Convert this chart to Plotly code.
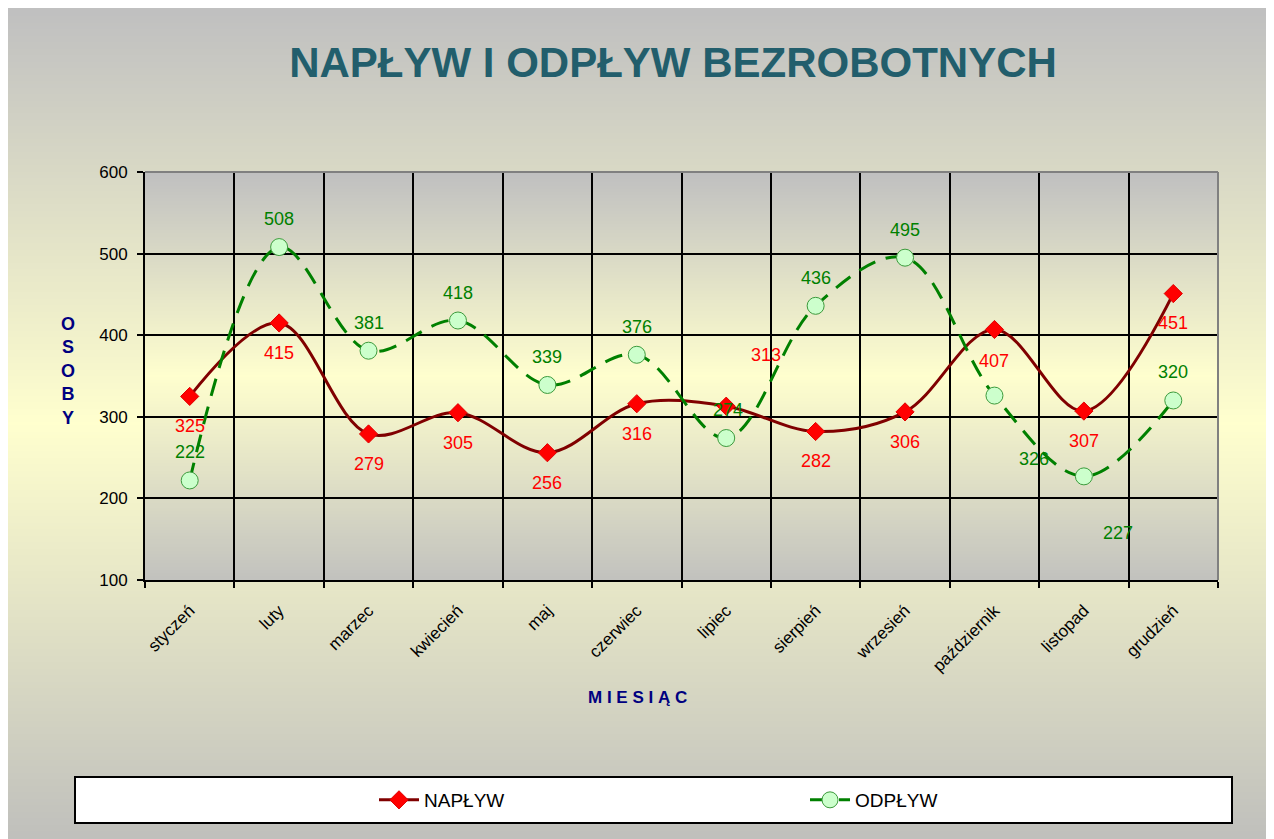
import zlib, struct, base64
import plotly.graph_objects as go

# ---------------- data ----------------
months = ["styczeń", "luty", "marzec", "kwiecień", "maj", "czerwiec",
          "lipiec", "sierpień", "wrzesień", "październik", "listopad", "grudzień"]
naplyw = [325, 415, 279, 305, 256, 316, 313, 282, 306, 407, 307, 451]
odplyw = [222, 508, 381, 418, 339, 376, 274, 436, 495, 326, 227, 320]

# label offsets (pixels) -- styling only
nap_dx = [0, 0, 0, 0, 0, 0, 40, 0, 0, 0, 0, 0]
nap_dy = [-30, -30, -30, -30, -30, -30, 51, -30, -30, -32, -30, -29]
odp_dx = [0, 0, 0, 0, 0, 0, 2, 0, 0, 40, 34, 0]
odp_dy = [28, 28, 28, 28, 28, 28, 28, 28, 28, -63, -57, 28]

# figure geometry (page body adds an 8px offset)
W, H = 1262, 831
L, R, T, B = 137, 52, 164, 259
PW, PH = W - L - R, H - T - B


def px_x(px):
    return (px - L) / PW


def px_y(py):
    return (H - B - py) / PH


def png_gradient(stops, h=256):
    rows = []
    for i in range(h):
        t = i / (h - 1)
        for k in range(len(stops) - 1):
            t0, c0 = stops[k]
            t1, c1 = stops[k + 1]
            if t0 <= t <= t1:
                f = (t - t0) / (t1 - t0) if t1 > t0 else 0
                c = [int(round(c0[j] + (c1[j] - c0[j]) * f)) for j in range(3)]
                break
        rows.append(b"\x00" + bytes(c) * 2)
    raw = b"".join(rows)

    def chunk(tag, data):
        return (struct.pack(">I", len(data)) + tag + data +
                struct.pack(">I", zlib.crc32(tag + data) & 0xffffffff))
    png = (b"\x89PNG\r\n\x1a\n" +
           chunk(b"IHDR", struct.pack(">IIBBBBB", 2, h, 8, 2, 0, 0, 0)) +
           chunk(b"IDAT", zlib.compress(raw)) + chunk(b"IEND", b""))
    return "data:image/png;base64," + base64.b64encode(png).decode()


outer_png = png_gradient([(0, (192, 192, 192)), (0.5, (255, 255, 206)), (1, (192, 192, 188))])
plot_png = png_gradient([(0, (192, 192, 192)), (0.5, (255, 255, 206)), (1, (194, 194, 190))])

x = list(range(len(months)))
FONT = "Liberation Sans, Arial, sans-serif"

fig = go.Figure()
fig.add_trace(go.Scatter(
    x=x, y=naplyw, name="NAPŁYW", mode="lines+markers",
    line=dict(color="#800000", width=3, shape="spline", smoothing=1.0),
    marker=dict(symbol="diamond", size=14, color="#FF0000",
                line=dict(color="#E00000", width=1)),
))
fig.add_trace(go.Scatter(
    x=x, y=odplyw, name="ODPŁYW", mode="lines+markers",
    line=dict(color="#008000", width=3, shape="spline", smoothing=1.0, dash="18px,11px"),
    marker=dict(symbol="circle", size=17, color="#CCFFCC",
                line=dict(color="#3C9A3C", width=1)),
))

annotations = []
for i, v in enumerate(naplyw):
    annotations.append(dict(x=x[i], y=v, text=str(v), showarrow=False,
                            xshift=nap_dx[i], yshift=nap_dy[i],
                            font=dict(color="#FF0000", size=18, family=FONT)))
for i, v in enumerate(odplyw):
    annotations.append(dict(x=x[i], y=v, text=str(v), showarrow=False,
                            xshift=odp_dx[i], yshift=odp_dy[i],
                            font=dict(color="#008000", size=18, family=FONT)))

# axis titles
annotations.append(dict(xref="paper", yref="paper", x=px_x(60), y=px_y(363),
                        text="O<br>S<br>O<br>B<br>Y", showarrow=False,
                        xanchor="center", yanchor="middle", align="center",
                        font=dict(color="#000080", size=18, family=FONT, weight="bold")))
annotations.append(dict(xref="paper", yref="paper", x=px_x(629), y=px_y(689),
                        text="M I E S I Ą C", showarrow=False,
                        xanchor="center", yanchor="middle",
                        font=dict(color="#000080", size=17, family=FONT, weight="bold")))

fig.update_layout(
    width=W, height=H,
    margin=dict(l=L, r=R, t=T, b=B),
    paper_bgcolor="white",
    plot_bgcolor="rgba(0,0,0,0)",
    title=dict(text="<b>NAPŁYW I ODPŁYW BEZROBOTNYCH</b>",
               x=665 / W, xref="container", xanchor="center",
               y=1 - 54 / H, yref="container", yanchor="middle",
               font=dict(family=FONT, size=42, color="#225E6C")),
    font=dict(family=FONT, color="black"),
    xaxis=dict(
        range=[-0.5, len(months) - 0.5],
        tickmode="array", tickvals=x, ticktext=months, tickangle=-45,
        ticks="", showgrid=False, zeroline=False,
        showline=True, linecolor="black", linewidth=2,
        tickfont=dict(size=17, color="black"),
        ticklabelstandoff=12,
        minor=dict(tickmode="array", tickvals=[i - 0.5 for i in range(len(months) + 1)],
                   ticks="outside", ticklen=6, tickcolor="black", tickwidth=1.5,
                   showgrid=True, gridcolor="black", gridwidth=1.5),
    ),
    yaxis=dict(
        range=[100, 600], dtick=100, tick0=100,
        ticks="outside", ticklen=6, tickcolor="black", tickwidth=1.5,
        showgrid=True, gridcolor="black", gridwidth=2,
        zeroline=False, showline=True, linecolor="black", linewidth=2,
        tickfont=dict(size=17, color="black"),
        ticklabelstandoff=6,
    ),
    showlegend=True,
    legend=dict(orientation="h", x=px_x(366), xanchor="left",
                y=px_y(792), yanchor="middle",
                bgcolor="rgba(0,0,0,0)", borderwidth=0,
                font=dict(size=19, color="black"),
                entrywidth=376, itemwidth=40),
    annotations=annotations,
    images=[
        dict(source=outer_png, xref="paper", yref="paper",
             x=-L / PW, y=1 + T / PH, sizex=W / PW, sizey=H / PH,
             xanchor="left", yanchor="top", sizing="stretch", layer="below"),
        dict(source=plot_png, xref="paper", yref="paper",
             x=0, y=1, sizex=1, sizey=1,
             xanchor="left", yanchor="top", sizing="stretch", layer="below"),
    ],
    shapes=[
        dict(type="rect", xref="paper", yref="paper",
             x0=px_x(67), x1=px_x(1224), y0=px_y(815), y1=px_y(769),
             fillcolor="white", line=dict(color="black", width=2), layer="below"),
        dict(type="line", xref="paper", yref="paper", x0=0, x1=1, y0=1, y1=1,
             line=dict(color="#808080", width=2), layer="above"),
        dict(type="line", xref="paper", yref="paper", x0=1, x1=1, y0=0, y1=1,
             line=dict(color="#808080", width=2), layer="above"),
    ],
)

fig.write_html("out.html")
